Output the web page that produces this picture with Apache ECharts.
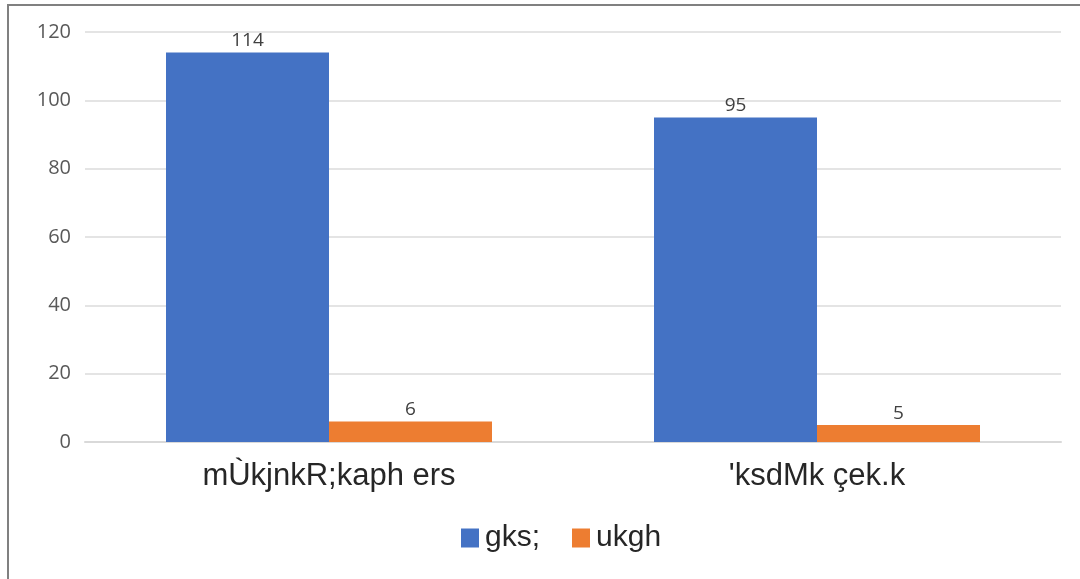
<!DOCTYPE html>
<html><head><meta charset="utf-8">
<script src="https://cdn.jsdelivr.net/npm/echarts@6/dist/echarts.min.js"></script>
<style>html,body{margin:0;padding:0;background:#fff;}#c{width:1080px;height:579px;}</style>
</head><body><div id="c"></div>
<script>
const categories = ["mÙkjnkR;kaph ers", "'ksdMk çek.k"];
const seriesNames = ["gks;", "ukgh"];
const yesValues = [114, 95];
const noValues = [6, 5];
const colors = ["#4472C4", "#ED7D31"];

const chart = echarts.init(document.getElementById('c'));
const labelStyle = {show: true, position: 'top', distance: 2, color: '#404040', fontSize: 19, fontFamily: 'Open Sans, sans-serif'};
chart.setOption({
  animation: false,
  graphic: [{type: 'rect', shape: {x: 8, y: 5, width: 1200, height: 700}, style: {fill: 'none', stroke: '#808080', lineWidth: 2}, silent: true}],
  grid: {left: 85, right: 19, top: 32, bottom: 137},
  legend: {
    data: seriesNames, bottom: 21, left: 456, itemWidth: 18, itemHeight: 19, itemGap: 32,
    icon: 'rect',
    textStyle: {fontSize: 30, color: '#262626', fontFamily: 'Liberation Sans, Arial, sans-serif', padding: [0,0,0,1]}
  },
  xAxis: {
    type: 'category', data: categories,
    axisLine: {lineStyle: {color: '#d9d9d9', width: 2}},
    axisTick: {show: false},
    axisLabel: {fontSize: 31, color: '#262626', margin: 19, fontFamily: 'Liberation Sans, Arial, sans-serif'}
  },
  yAxis: {
    type: 'value', min: 0, max: 120, interval: 20,
    axisLine: {show: false}, axisTick: {show: false},
    splitLine: {lineStyle: {color: '#e4e4e4', width: 2}},
    axisLabel: {fontSize: 20, color: '#595959', margin: 14, fontFamily: 'Open Sans, sans-serif'}
  },
  series: [
    {name: seriesNames[0], type: 'bar', data: yesValues, barWidth: 163, barGap: '0%', itemStyle: {color: colors[0]}, label: labelStyle},
    {name: seriesNames[1], type: 'bar', data: noValues, barWidth: 163, barGap: '0%', itemStyle: {color: colors[1]}, label: labelStyle}
  ]
});
</script></body></html>
